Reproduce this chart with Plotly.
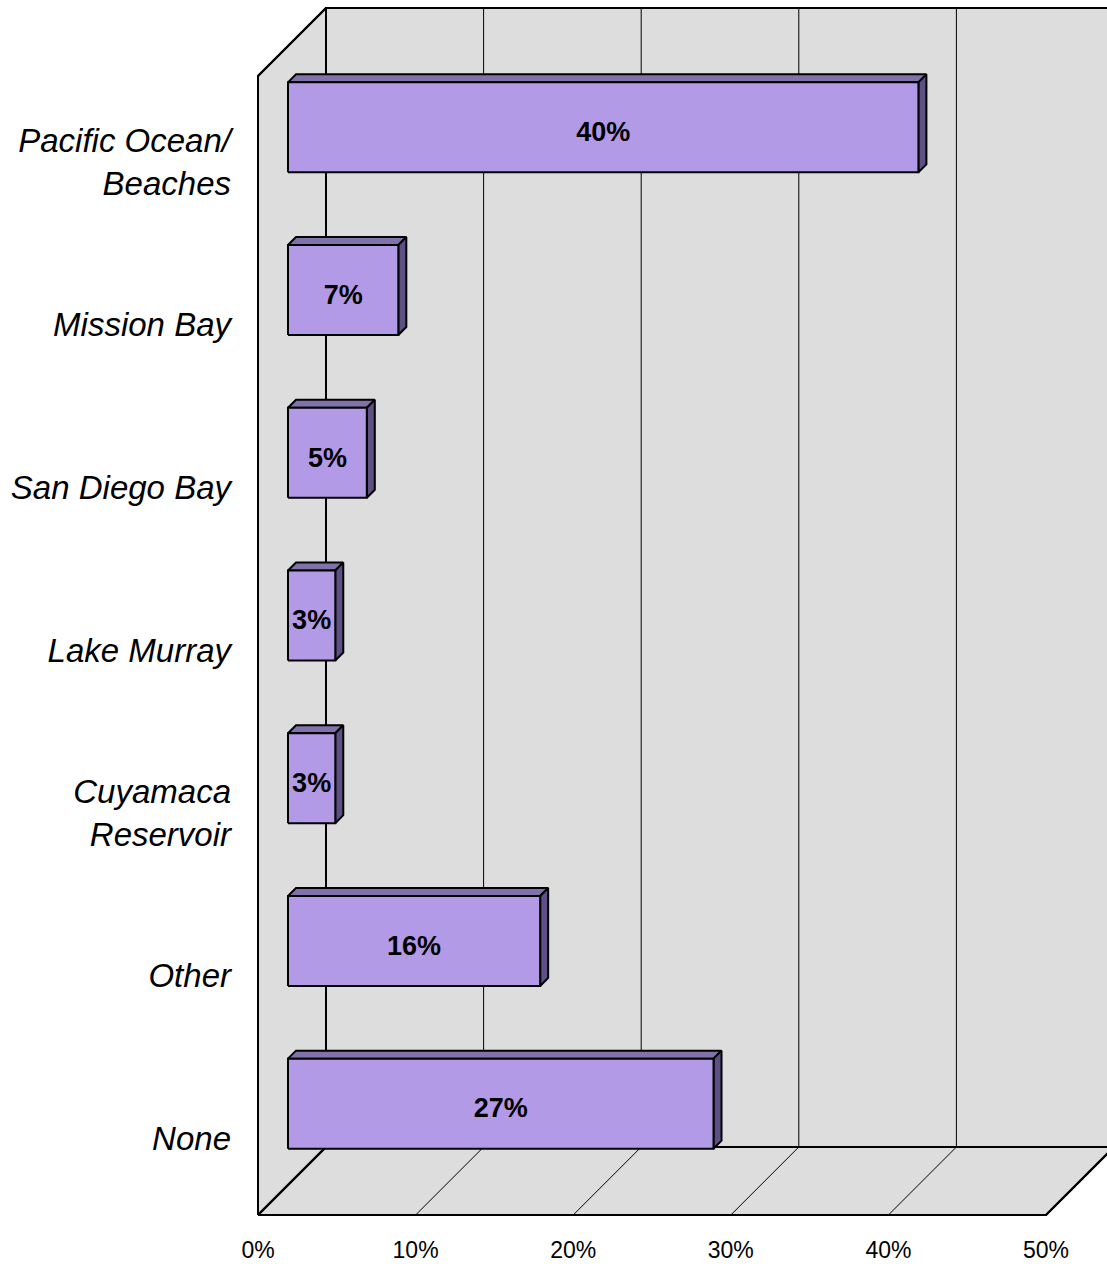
import plotly.graph_objects as go

# ---- data ----
categories = ["Pacific Ocean/<br>Beaches", "Mission Bay", "San Diego Bay", "Lake Murray",
              "Cuyamaca<br>Reservoir", "Other", "None"]
values = [40, 7, 5, 3, 3, 16, 27]
value_labels = ["40%", "7%", "5%", "3%", "3%", "16%", "27%"]
tick_values = [0, 10, 20, 30, 40, 50]
tick_labels = ["0%", "10%", "20%", "30%", "40%", "50%"]

# ---- geometry (page-pixel layout converted into data units) ----
PAGE_W, PAGE_H = 1107, 1264
OFF = 0                     # body margin removed via post_script
FW, FH = PAGE_W - OFF, PAGE_H - OFF
X0PX, X50PX = 258, 1046
SX = (X50PX - X0PX) / 50.0           # px per percent
YBOT_PX, YTOP_PX = 1215, 76
NCAT = len(categories)
SY = (YBOT_PX - YTOP_PX) / NCAT      # px per category
XMIN = (OFF - X0PX) / SX
XMAX = XMIN + FW / SX
YMAX = (NCAT - 0.5) + (YTOP_PX - OFF) / SY
YMIN = -0.5 - (PAGE_H - YBOT_PX) / SY

DEPTH = 68      # total chart depth (px)
BAR_FRONT = 30  # depth of bar front face (px)
BAR_DEPTH = 8   # bar thickness (px)
BAR_HALF = 45   # half bar height (px)

def shift(x, y, d):
    return x + d / SX, y + d / SY

XLO, XHI = tick_values[0], tick_values[-1]
YLO, YHI = -0.5, NCAT - 0.5

fig = go.Figure()

def poly(pts_list, fill, lw=2, lc="black"):
    xs, ys = [], []
    for pts in pts_list:
        for (x, y) in pts:
            xs.append(x); ys.append(y)
        xs.append(pts[0][0]); ys.append(pts[0][1])
        xs.append(None); ys.append(None)
    fig.add_trace(go.Scatter(x=xs, y=ys, mode="lines", fill="toself", fillcolor=fill,
                             line=dict(color=lc, width=lw), hoverinfo="skip"))

def lines(segs, lw=1, lc="black"):
    xs, ys = [], []
    for (a, b) in segs:
        xs += [a[0], b[0], None]; ys += [a[1], b[1], None]
    fig.add_trace(go.Scatter(x=xs, y=ys, mode="lines", line=dict(color=lc, width=lw),
                             hoverinfo="skip"))

WALL = "#DDDDDD"
back = [shift(XLO, YLO, DEPTH), shift(XHI, YLO, DEPTH), shift(XHI, YHI, DEPTH), shift(XLO, YHI, DEPTH)]
poly([back], WALL)
left = [(XLO, YLO), (XLO, YHI), shift(XLO, YHI, DEPTH), shift(XLO, YLO, DEPTH)]
poly([left], WALL)
floor = [(XLO, YLO), (XHI, YLO), shift(XHI, YLO, DEPTH), shift(XLO, YLO, DEPTH)]
poly([floor], WALL)

segs = []
for t in tick_values[1:-1]:
    segs.append((shift(t, YLO, DEPTH), shift(t, YHI, DEPTH)))
    segs.append(((t, YLO), shift(t, YLO, DEPTH)))
lines(segs, lw=1)
lines([(shift(XLO, YLO, DEPTH), shift(XLO, YHI, DEPTH)),
       ((XLO, YLO), shift(XLO, YLO, DEPTH)),
       ((XLO, YLO), (XHI, YLO)),
       ((XHI, YLO), shift(XHI, YLO, DEPTH)),
       (shift(XLO, YLO, DEPTH), shift(XHI, YLO, DEPTH)),
       (shift(XLO, YHI, DEPTH), shift(XHI, YHI, DEPTH)),
       ((XLO, YLO), (XLO, YHI)),
       ((XLO, YHI), shift(XLO, YHI, DEPTH))], lw=2)

# bars
cat_pos = [NCAT - 1 - i for i in range(NCAT)]
fronts, tops, rights = [], [], []
lab_x, lab_y = [], []
for v, c in zip(values, cat_pos):
    hy = BAR_HALF / SY
    x0, y0 = shift(0, c - hy, BAR_FRONT)
    x1, y1 = shift(v, c + hy, BAR_FRONT)
    fronts.append([(x0, y0), (x1, y0), (x1, y1), (x0, y1)])
    tx0, ty1 = shift(x0, y1, BAR_DEPTH)
    tx1, _ = shift(x1, y1, BAR_DEPTH)
    tops.append([(x0, y1), (x1, y1), (tx1, ty1), (tx0, ty1)])
    _, ry0 = shift(x1, y0, BAR_DEPTH)
    rights.append([(x1, y0), (tx1, ry0), (tx1, ty1), (x1, y1)])
    lx, ly = shift(v / 2.0, c, BAR_FRONT)
    lab_x.append(lx); lab_y.append(ly - 7 / SY)

poly(tops, "#8272AC")
poly(rights, "#5E5084")
poly(fronts, "#B39AE6")

FONT = "Liberation Sans, Arial, sans-serif"
fig.add_trace(go.Scatter(x=lab_x, y=lab_y, mode="text",
                         text=["<b>%s</b>" % s for s in value_labels],
                         textposition="middle center",
                         textfont=dict(family=FONT, size=27, color="black"),
                         hoverinfo="skip"))

cat_x = [(231 - X0PX) / SX] * NCAT
cat_y = [c - 8 / SY for c in cat_pos]
fig.add_trace(go.Scatter(x=cat_x, y=cat_y, mode="text",
                         text=["<i>%s</i>" % s for s in categories],
                         textposition="middle left",
                         textfont=dict(family=FONT, size=33, color="black"),
                         hoverinfo="skip", cliponaxis=False))

tick_y = YLO - (1252 - YBOT_PX) / SY
fig.add_trace(go.Scatter(x=tick_values, y=[tick_y] * len(tick_values), mode="text",
                         text=tick_labels, textposition="middle center",
                         textfont=dict(family=FONT, size=23, color="black"),
                         hoverinfo="skip", cliponaxis=False))

fig.update_layout(width=FW, height=FH, margin=dict(l=0, r=0, t=0, b=0, pad=0),
                  paper_bgcolor="white", plot_bgcolor="white", showlegend=False,
                  xaxis=dict(range=[XMIN, XMAX], visible=False, fixedrange=True),
                  yaxis=dict(range=[YMIN, YMAX], visible=False, fixedrange=True),
                  hovermode=False)
fig.write_html("out.html", config={"displayModeBar": False},
               post_script="document.body.style.margin='0';document.body.style.overflow='hidden';")
